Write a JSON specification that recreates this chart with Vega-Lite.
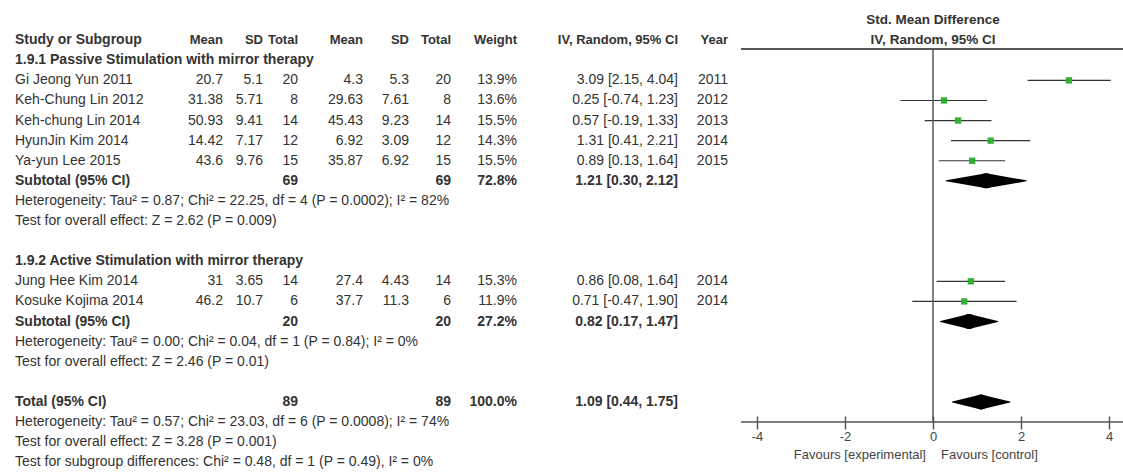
{
  "$schema": "https://vega.github.io/schema/vega-lite/v6.json",
  "padding": 0,
  "spacing": 0,
  "background": "white",
  "config": {"view": {"stroke": null}},
  "datasets": {
    "rows": [
      {"k": -1, "type": "header", "label": "Study or Subgroup", "mPost": "Mean", "sdPost": "SD", "nPost": "Total", "mPre": "Mean", "sdPre": "SD", "nPre": "Total", "weight": "Weight", "ci": "IV, Random, 95% CI", "year": "Year"},
      {"k": 0, "type": "group", "label": "1.9.1 Passive Stimulation with mirror therapy"},
      {"k": 1, "type": "study", "label": "Gi Jeong Yun 2011", "mPost": 20.7, "sdPost": 5.1, "nPost": 20, "mPre": 4.3, "sdPre": 5.3, "nPre": 20, "weight": "13.9%", "ci": "3.09 [2.15, 4.04]", "year": 2011, "est": 3.09, "lo": 2.15, "hi": 4.04},
      {"k": 2, "type": "study", "label": "Keh-Chung Lin 2012", "mPost": 31.38, "sdPost": 5.71, "nPost": 8, "mPre": 29.63, "sdPre": 7.61, "nPre": 8, "weight": "13.6%", "ci": "0.25 [-0.74, 1.23]", "year": 2012, "est": 0.25, "lo": -0.74, "hi": 1.23},
      {"k": 3, "type": "study", "label": "Keh-chung Lin 2014", "mPost": 50.93, "sdPost": 9.41, "nPost": 14, "mPre": 45.43, "sdPre": 9.23, "nPre": 14, "weight": "15.5%", "ci": "0.57 [-0.19, 1.33]", "year": 2013, "est": 0.57, "lo": -0.19, "hi": 1.33},
      {"k": 4, "type": "study", "label": "HyunJin Kim 2014", "mPost": 14.42, "sdPost": 7.17, "nPost": 12, "mPre": 6.92, "sdPre": 3.09, "nPre": 12, "weight": "14.3%", "ci": "1.31 [0.41, 2.21]", "year": 2014, "est": 1.31, "lo": 0.41, "hi": 2.21},
      {"k": 5, "type": "study", "label": "Ya-yun Lee 2015", "mPost": 43.6, "sdPost": 9.76, "nPost": 15, "mPre": 35.87, "sdPre": 6.92, "nPre": 15, "weight": "15.5%", "ci": "0.89 [0.13, 1.64]", "year": 2015, "est": 0.89, "lo": 0.13, "hi": 1.64},
      {"k": 6, "type": "subtotal", "label": "Subtotal (95% CI)", "nPost": 69, "nPre": 69, "weight": "72.8%", "ci": "1.21 [0.30, 2.12]", "est": 1.21, "lo": 0.30, "hi": 2.12},
      {"k": 7, "type": "note", "label": "Heterogeneity: Tau² = 0.87; Chi² = 22.25, df = 4 (P = 0.0002); I² = 82%"},
      {"k": 8, "type": "note", "label": "Test for overall effect: Z = 2.62 (P = 0.009)"},
      {"k": 10, "type": "group", "label": "1.9.2 Active Stimulation with mirror therapy"},
      {"k": 11, "type": "study", "label": "Jung Hee Kim 2014", "mPost": 31, "sdPost": 3.65, "nPost": 14, "mPre": 27.4, "sdPre": 4.43, "nPre": 14, "weight": "15.3%", "ci": "0.86 [0.08, 1.64]", "year": 2014, "est": 0.86, "lo": 0.08, "hi": 1.64},
      {"k": 12, "type": "study", "label": "Kosuke Kojima 2014", "mPost": 46.2, "sdPost": 10.7, "nPost": 6, "mPre": 37.7, "sdPre": 11.3, "nPre": 6, "weight": "11.9%", "ci": "0.71 [-0.47, 1.90]", "year": 2014, "est": 0.71, "lo": -0.47, "hi": 1.90},
      {"k": 13, "type": "subtotal", "label": "Subtotal (95% CI)", "nPost": 20, "nPre": 20, "weight": "27.2%", "ci": "0.82 [0.17, 1.47]", "est": 0.82, "lo": 0.17, "hi": 1.47},
      {"k": 14, "type": "note", "label": "Heterogeneity: Tau² = 0.00; Chi² = 0.04, df = 1 (P = 0.84); I² = 0%"},
      {"k": 15, "type": "note", "label": "Test for overall effect: Z = 2.46 (P = 0.01)"},
      {"k": 17, "type": "subtotal", "label": "Total (95% CI)", "nPost": 89, "nPre": 89, "weight": "100.0%", "ci": "1.09 [0.44, 1.75]", "est": 1.09, "lo": 0.44, "hi": 1.75},
      {"k": 18, "type": "note", "label": "Heterogeneity: Tau² = 0.57; Chi² = 23.03, df = 6 (P = 0.0008); I² = 74%"},
      {"k": 19, "type": "note", "label": "Test for overall effect: Z = 3.28 (P = 0.001)"},
      {"k": 20, "type": "note", "label": "Test for subgroup differences: Chi² = 0.48, df = 1 (P = 0.49), I² = 0%"}
    ]
  },
  "hconcat": [
    {
      "width": 740,
      "height": 474,
      "data": {"name": "rows"},
      "encoding": {
        "y": {"field": "k", "type": "quantitative", "scale": {"domain": [-3, 20.588], "reverse": true, "nice": false, "zero": false}, "axis": null}
      },
      "layer": [
        {
          "data": {"values": [{}]},
          "mark": {"type": "rule", "color": "#555", "strokeWidth": 2},
          "encoding": {"y": {"datum": -0.56, "type": "quantitative", "scale": {"domain": [-3, 20.588], "reverse": true, "nice": false, "zero": false}, "axis": null}}
        },
        {
          "transform": [{"filter": "isValid(datum.label)"}],
          "mark": {"type": "text", "align": "left", "baseline": "middle", "font": "Liberation Sans", "fontSize": 14, "color": "#333", "fontWeight": {"expr": "datum.type === 'study' || datum.type === 'note' ? 'normal' : 'bold'"}},
          "encoding": {"x": {"datum": 15, "type": "quantitative", "scale": {"domain": [0, 740], "nice": false, "zero": false}, "axis": null}, "text": {"field": "label", "type": "nominal"}}
        },
        {
          "transform": [{"filter": "isValid(datum.mPost)"}],
          "mark": {"type": "text", "align": "right", "baseline": "middle", "font": "Liberation Sans", "fontSize": {"expr": "datum.type === 'header' ? 13 : 14"}, "color": "#333", "fontWeight": {"expr": "datum.type === 'study' || datum.type === 'note' ? 'normal' : 'bold'"}},
          "encoding": {"x": {"datum": 223, "type": "quantitative", "scale": {"domain": [0, 740], "nice": false, "zero": false}, "axis": null}, "text": {"field": "mPost", "type": "nominal"}}
        },
        {
          "transform": [{"filter": "isValid(datum.sdPost)"}],
          "mark": {"type": "text", "align": "right", "baseline": "middle", "font": "Liberation Sans", "fontSize": {"expr": "datum.type === 'header' ? 13 : 14"}, "color": "#333", "fontWeight": {"expr": "datum.type === 'study' || datum.type === 'note' ? 'normal' : 'bold'"}},
          "encoding": {"x": {"datum": 263, "type": "quantitative", "scale": {"domain": [0, 740], "nice": false, "zero": false}, "axis": null}, "text": {"field": "sdPost", "type": "nominal"}}
        },
        {
          "transform": [{"filter": "isValid(datum.nPost)"}],
          "mark": {"type": "text", "align": "right", "baseline": "middle", "font": "Liberation Sans", "fontSize": {"expr": "datum.type === 'header' ? 13 : 14"}, "color": "#333", "fontWeight": {"expr": "datum.type === 'study' || datum.type === 'note' ? 'normal' : 'bold'"}},
          "encoding": {"x": {"datum": 298, "type": "quantitative", "scale": {"domain": [0, 740], "nice": false, "zero": false}, "axis": null}, "text": {"field": "nPost", "type": "nominal"}}
        },
        {
          "transform": [{"filter": "isValid(datum.mPre)"}],
          "mark": {"type": "text", "align": "right", "baseline": "middle", "font": "Liberation Sans", "fontSize": {"expr": "datum.type === 'header' ? 13 : 14"}, "color": "#333", "fontWeight": {"expr": "datum.type === 'study' || datum.type === 'note' ? 'normal' : 'bold'"}},
          "encoding": {"x": {"datum": 363, "type": "quantitative", "scale": {"domain": [0, 740], "nice": false, "zero": false}, "axis": null}, "text": {"field": "mPre", "type": "nominal"}}
        },
        {
          "transform": [{"filter": "isValid(datum.sdPre)"}],
          "mark": {"type": "text", "align": "right", "baseline": "middle", "font": "Liberation Sans", "fontSize": {"expr": "datum.type === 'header' ? 13 : 14"}, "color": "#333", "fontWeight": {"expr": "datum.type === 'study' || datum.type === 'note' ? 'normal' : 'bold'"}},
          "encoding": {"x": {"datum": 409, "type": "quantitative", "scale": {"domain": [0, 740], "nice": false, "zero": false}, "axis": null}, "text": {"field": "sdPre", "type": "nominal"}}
        },
        {
          "transform": [{"filter": "isValid(datum.nPre)"}],
          "mark": {"type": "text", "align": "right", "baseline": "middle", "font": "Liberation Sans", "fontSize": {"expr": "datum.type === 'header' ? 13 : 14"}, "color": "#333", "fontWeight": {"expr": "datum.type === 'study' || datum.type === 'note' ? 'normal' : 'bold'"}},
          "encoding": {"x": {"datum": 451, "type": "quantitative", "scale": {"domain": [0, 740], "nice": false, "zero": false}, "axis": null}, "text": {"field": "nPre", "type": "nominal"}}
        },
        {
          "transform": [{"filter": "isValid(datum.weight)"}],
          "mark": {"type": "text", "align": "right", "baseline": "middle", "font": "Liberation Sans", "fontSize": {"expr": "datum.type === 'header' ? 13 : 14"}, "color": "#333", "fontWeight": {"expr": "datum.type === 'study' || datum.type === 'note' ? 'normal' : 'bold'"}},
          "encoding": {"x": {"datum": 517, "type": "quantitative", "scale": {"domain": [0, 740], "nice": false, "zero": false}, "axis": null}, "text": {"field": "weight", "type": "nominal"}}
        },
        {
          "transform": [{"filter": "isValid(datum.ci)"}],
          "mark": {"type": "text", "align": "right", "baseline": "middle", "font": "Liberation Sans", "fontSize": {"expr": "datum.type === 'header' ? 13 : 14"}, "color": "#333", "fontWeight": {"expr": "datum.type === 'study' || datum.type === 'note' ? 'normal' : 'bold'"}},
          "encoding": {"x": {"datum": 678, "type": "quantitative", "scale": {"domain": [0, 740], "nice": false, "zero": false}, "axis": null}, "text": {"field": "ci", "type": "nominal"}}
        },
        {
          "transform": [{"filter": "isValid(datum.year)"}],
          "mark": {"type": "text", "align": "right", "baseline": "middle", "font": "Liberation Sans", "fontSize": {"expr": "datum.type === 'header' ? 13 : 14"}, "color": "#333", "fontWeight": {"expr": "datum.type === 'study' || datum.type === 'note' ? 'normal' : 'bold'"}},
          "encoding": {"x": {"datum": 728, "type": "quantitative", "scale": {"domain": [0, 740], "nice": false, "zero": false}, "axis": null}, "text": {"field": "year", "type": "nominal"}}
        },
        {
          "data": {"values": [{}]},
          "mark": {"type": "text", "align": "center", "baseline": "middle", "font": "Liberation Sans", "fontSize": 13.5, "fontWeight": "bold", "color": "#333", "text": "posttest"},
          "encoding": {"x": {"datum": 243, "type": "quantitative", "scale": {"domain": [0, 740], "nice": false, "zero": false}, "axis": null}, "y": {"datum": -2, "type": "quantitative", "scale": {"domain": [-3, 20.588], "reverse": true, "nice": false, "zero": false}, "axis": null}}
        },
        {
          "data": {"values": [{}]},
          "mark": {"type": "text", "align": "center", "baseline": "middle", "font": "Liberation Sans", "fontSize": 13.5, "fontWeight": "bold", "color": "#333", "text": "pretest"},
          "encoding": {"x": {"datum": 385, "type": "quantitative", "scale": {"domain": [0, 740], "nice": false, "zero": false}, "axis": null}, "y": {"datum": -2, "type": "quantitative", "scale": {"domain": [-3, 20.588], "reverse": true, "nice": false, "zero": false}, "axis": null}}
        },
        {
          "data": {"values": [{}]},
          "mark": {"type": "text", "align": "center", "baseline": "middle", "font": "Liberation Sans", "fontSize": 13.5, "fontWeight": "bold", "color": "#333", "text": "Std. Mean Difference"},
          "encoding": {"x": {"datum": 604, "type": "quantitative", "scale": {"domain": [0, 740], "nice": false, "zero": false}, "axis": null}, "y": {"datum": -2, "type": "quantitative", "scale": {"domain": [-3, 20.588], "reverse": true, "nice": false, "zero": false}, "axis": null}}
        }
      ]
    },
    {
      "width": 383,
      "height": 422,
      "data": {"name": "rows"},
      "resolve": {"scale": {"size": "independent"}},
      "layer": [
        {
          "data": {"values": [{}]},
          "mark": {"type": "rule", "color": "#555", "strokeWidth": 2},
          "encoding": {"y": {"datum": -0.56, "type": "quantitative", "scale": {"domain": [-3, 18], "reverse": true, "nice": false, "zero": false}, "axis": null}}
        },
        {
          "data": {"values": [{}]},
          "mark": {"type": "rule", "color": "#555", "strokeWidth": 1.5},
          "encoding": {"y": {"datum": 18, "type": "quantitative", "scale": {"domain": [-3, 18], "reverse": true, "nice": false, "zero": false}, "axis": null}}
        },
        {
          "transform": [{"filter": "datum.type === 'study'"}],
          "mark": {"type": "rule", "color": "#333", "strokeWidth": 1.2},
          "encoding": {
            "x": {"field": "lo", "type": "quantitative", "title": null, "scale": {"domain": [-4.3636, 4.3409], "nice": false, "zero": false},
              "axis": {"values": [-4, -2, 0, 2, 4], "title": null, "domain": false, "grid": false, "tickSize": 13, "tickColor": "#555", "tickWidth": 1.5, "offset": -6, "labelFont": "Liberation Sans", "labelFontSize": 13, "labelColor": "#444", "labelPadding": 1, "labelExpr": "'' + datum.value", "labelFlush": false}},
            "x2": {"field": "hi"},
            "y": {"field": "k", "type": "quantitative", "scale": {"domain": [-3, 18], "reverse": true, "nice": false, "zero": false}, "axis": null}
          }
        },
        {
          "data": {"values": [{}]},
          "mark": {"type": "rule", "color": "#555", "strokeWidth": 1.5},
          "encoding": {
            "x": {"datum": 0, "type": "quantitative", "scale": {"domain": [-4.3636, 4.3409], "nice": false, "zero": false}},
            "y": {"datum": -0.56, "type": "quantitative", "scale": {"domain": [-3, 18], "reverse": true, "nice": false, "zero": false}, "axis": null},
            "y2": {"datum": 18}
          }
        },
        {
          "transform": [{"filter": "datum.type === 'study'"}],
          "mark": {"type": "point", "shape": "square", "filled": true, "color": "#33b033", "opacity": 1, "size": 40},
          "encoding": {
            "x": {"field": "est", "type": "quantitative", "title": null, "scale": {"domain": [-4.3636, 4.3409], "nice": false, "zero": false}},
            "y": {"field": "k", "type": "quantitative", "scale": {"domain": [-3, 18], "reverse": true, "nice": false, "zero": false}, "axis": null}
          }
        },
        {
          "transform": [{"filter": "datum.type === 'subtotal'"}, {"fold": ["lo", "est"], "as": ["bound", "value"]}],
          "mark": {"type": "trail", "color": "#000"},
          "encoding": {
            "x": {"field": "value", "type": "quantitative", "title": null, "scale": {"domain": [-4.3636, 4.3409], "nice": false, "zero": false}},
            "y": {"field": "k", "type": "quantitative", "scale": {"domain": [-3, 18], "reverse": true, "nice": false, "zero": false}, "axis": null},
            "size": {"field": "bound", "type": "ordinal", "scale": {"domain": ["lo", "est"], "range": [0, 15], "padding": 0}, "legend": null},
            "detail": {"field": "k", "type": "nominal"}
          }
        },
        {
          "transform": [{"filter": "datum.type === 'subtotal'"}, {"fold": ["est", "hi"], "as": ["bound2", "value2"]}],
          "mark": {"type": "trail", "color": "#000"},
          "encoding": {
            "x": {"field": "value2", "type": "quantitative", "title": null, "scale": {"domain": [-4.3636, 4.3409], "nice": false, "zero": false}},
            "y": {"field": "k", "type": "quantitative", "scale": {"domain": [-3, 18], "reverse": true, "nice": false, "zero": false}, "axis": null},
            "size": {"field": "bound2", "type": "ordinal", "scale": {"domain": ["hi", "est"], "range": [0, 15], "padding": 0}, "legend": null},
            "detail": {"field": "k", "type": "nominal"}
          }
        },
        {
          "data": {"values": [{}]},
          "mark": {"type": "text", "align": "center", "baseline": "middle", "font": "Liberation Sans", "fontSize": 13.5, "fontWeight": "bold", "color": "#333", "text": "Std. Mean Difference"},
          "encoding": {
            "x": {"datum": 0, "type": "quantitative", "scale": {"domain": [-4.3636, 4.3409], "nice": false, "zero": false}},
            "y": {"datum": -2, "type": "quantitative", "scale": {"domain": [-3, 18], "reverse": true, "nice": false, "zero": false}, "axis": null}
          }
        },
        {
          "data": {"values": [{}]},
          "mark": {"type": "text", "align": "center", "baseline": "middle", "font": "Liberation Sans", "fontSize": 13.5, "fontWeight": "bold", "color": "#333", "text": "IV, Random, 95% CI"},
          "encoding": {
            "x": {"datum": 0, "type": "quantitative", "scale": {"domain": [-4.3636, 4.3409], "nice": false, "zero": false}},
            "y": {"datum": -1, "type": "quantitative", "scale": {"domain": [-3, 18], "reverse": true, "nice": false, "zero": false}, "axis": null}
          }
        },
        {
          "data": {"values": [{}]},
          "mark": {"type": "text", "align": "right", "baseline": "middle", "dx": -7, "font": "Liberation Sans", "fontSize": 13, "color": "#444", "text": "Favours [experimental]"},
          "encoding": {
            "x": {"datum": 0, "type": "quantitative", "scale": {"domain": [-4.3636, 4.3409], "nice": false, "zero": false}},
            "y": {"datum": 19.64, "type": "quantitative", "scale": {"domain": [-3, 18], "reverse": true, "nice": false, "zero": false}, "axis": null}
          }
        },
        {
          "data": {"values": [{}]},
          "mark": {"type": "text", "align": "left", "baseline": "middle", "dx": 8, "font": "Liberation Sans", "fontSize": 13, "color": "#444", "text": "Favours [control]"},
          "encoding": {
            "x": {"datum": 0, "type": "quantitative", "scale": {"domain": [-4.3636, 4.3409], "nice": false, "zero": false}},
            "y": {"datum": 19.64, "type": "quantitative", "scale": {"domain": [-3, 18], "reverse": true, "nice": false, "zero": false}, "axis": null}
          }
        }
      ]
    }
  ]
}
